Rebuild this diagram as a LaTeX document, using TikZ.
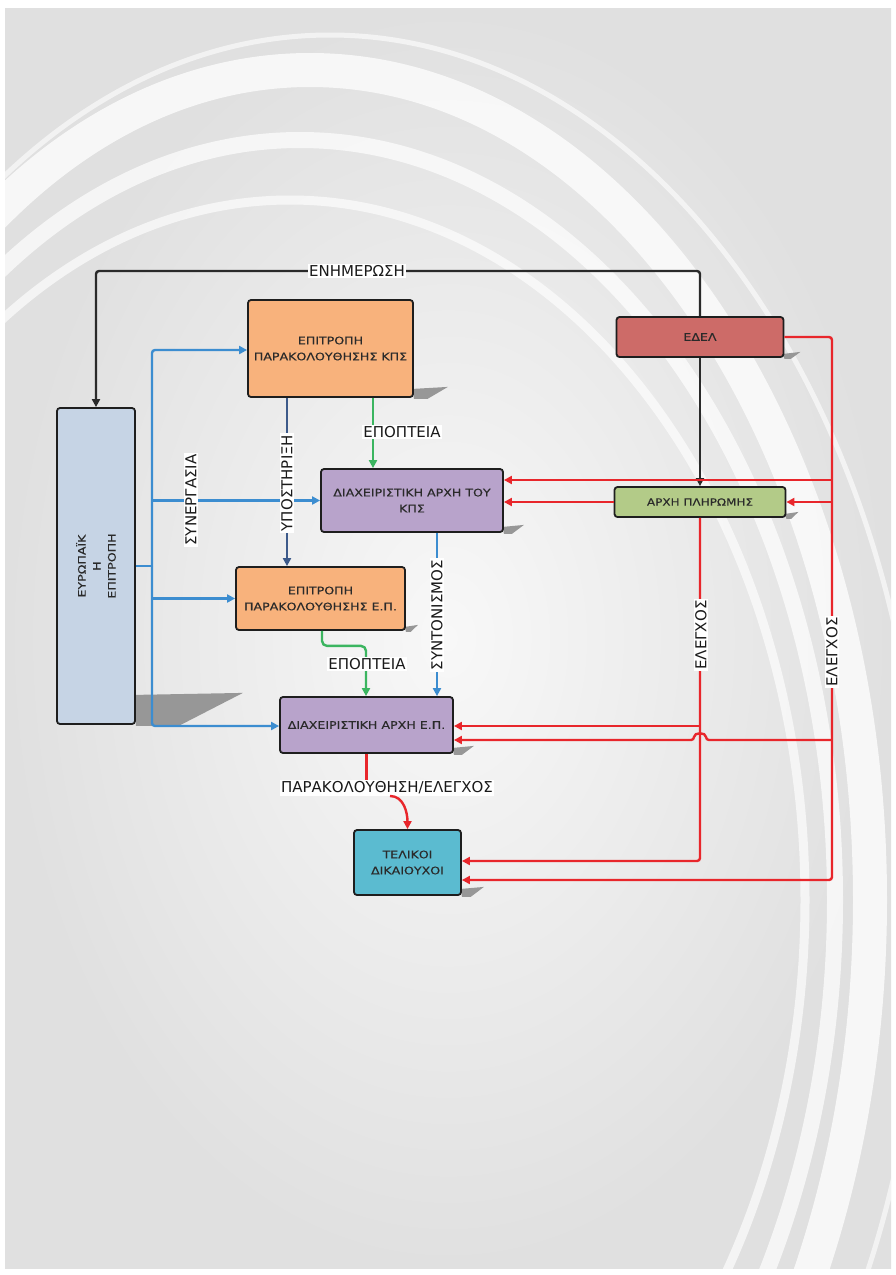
\documentclass[tikz,border=0pt]{standalone}
\usepackage{fontspec}
\setmainfont{DejaVu Sans}
\newfontfamily\boxfont[FakeStretch=1.2,FakeBold=0.3]{DejaVu Sans}
\usepackage{tikz}
\usetikzlibrary{positioning,arrows.meta,backgrounds}

\definecolor{pagegray}{HTML}{E0E0E0}
\definecolor{pagelight}{HTML}{F8F8F8}
\definecolor{shadegray}{HTML}{979797}
\definecolor{boxline}{HTML}{1E1E1E}
\definecolor{boxtext}{HTML}{2A2A2A}
\definecolor{lbltext}{HTML}{1A1A1A}
\definecolor{orangebox}{HTML}{F8B27C}
\definecolor{edelbox}{HTML}{CD6B68}
\definecolor{ecbox}{HTML}{C6D4E5}
\definecolor{purplebox}{HTML}{B8A3CB}
\definecolor{greenbox}{HTML}{B3CB88}
\definecolor{tealbox}{HTML}{5BBBD0}
\definecolor{lineblue}{HTML}{3C8DD0}
\definecolor{lineslate}{HTML}{3D5A8A}
\definecolor{linegreen}{HTML}{3BB560}
\definecolor{linered}{HTML}{E8262B}
\definecolor{lineblack}{HTML}{2A2A2A}

\pgfdeclarelayer{page}
\pgfsetlayers{page,background,main}

% wedge shadow at the lower right corner of a box
\newcommand{\boxshade}[3]{%
  \fill[shadegray] (#1.south east) ++(-1,-#3) -- ++(#2+1,-2)
    -- ++(-0.6*#2,#3+3) -- ++(-0.4*#2,0) -- cycle;}

\begin{document}
\begin{tikzpicture}[x=1pt,y=-1pt,
    >={Triangle[length=8pt,width=8pt]},
    box/.style={draw=boxline,line width=1.8pt,rounded corners=3pt,
      font=\boxfont\fontsize{10.5}{16}\selectfont,text=boxtext,align=center,inner sep=2pt},
    lbl/.style={fill=white,inner sep=1.5pt,font=\fontsize{15}{18}\selectfont,text=lbltext},
    conn/.style={line width=2.4pt,rounded corners=3pt},
    blueline/.style={conn,draw=lineblue},
    slateline/.style={conn,draw=lineslate},
    greenline/.style={conn,draw=linegreen,rounded corners=5pt},
    redline/.style={conn,draw=linered},
    blkline/.style={conn,draw=lineblack}]

  \useasboundingbox (0,0) rectangle (896,1275);

  % page
  \begin{pgfonlayer}{page}
    \fill[white] (0,0) rectangle (896,1275);
    \shade[inner color=pagelight,outer color=pagegray] (5,8) rectangle (891,1268);
    \begin{scope}
      \clip (5,8) rectangle (891,1268);
      \draw[white,line width=34pt,opacity=.75] (310,900) ellipse [x radius=560,y radius=830];
      \draw[white,line width=16pt,opacity=.7] (300,900) ellipse [x radius=535,y radius=760];
      \draw[white,line width=9pt,opacity=.65] (290,900) ellipse [x radius=515,y radius=700];
      \draw[white,line width=5pt,opacity=.6] (330,900) ellipse [x radius=595,y radius=865];
    \end{scope}
  \end{pgfonlayer}

  % boxes
  \node[box,fill=orangebox,minimum width=165pt,minimum height=97pt] (kpsmon) at (330.5,348.5)
    {ΕΠΙΤΡΟΠΗ\\ΠΑΡΑΚΟΛΟΥΘΗΣΗΣ ΚΠΣ};
  \node[box,fill=edelbox,minimum width=167pt,minimum height=40pt] (edel) at (700,337) {ΕΔΕΛ};
  \node[box,fill=ecbox,minimum width=78pt,minimum height=316pt] (ec) at (96,566) {};
  \node[rotate=90,align=center,text=boxtext,font=\boxfont\fontsize{10.5}{15}\selectfont]
    (ectext) at (ec.center) {ΕΥΡΩΠΑΪΚ\\Η\\ΕΠΙΤΡΟΠΗ};
  \node[box,fill=purplebox,minimum width=182pt,minimum height=63pt] (dakps) at (412,500.5)
    {ΔΙΑΧΕΙΡΙΣΤΙΚΗ ΑΡΧΗ ΤΟΥ\\ΚΠΣ};
  \node[box,fill=greenbox,minimum width=171pt,minimum height=30pt,
    font=\boxfont\fontsize{10}{12}\selectfont] (payauth) at (700,502) {ΑΡΧΗ ΠΛΗΡΩΜΗΣ};
  \node[box,fill=orangebox,minimum width=169pt,minimum height=63pt] (epmon) at (320.5,598.5)
    {ΕΠΙΤΡΟΠΗ\\ΠΑΡΑΚΟΛΟΥΘΗΣΗΣ Ε.Π.};
  \node[box,fill=purplebox,minimum width=173pt,minimum height=56pt] (daep) at (366.5,725)
    {ΔΙΑΧΕΙΡΙΣΤΙΚΗ ΑΡΧΗ Ε.Π.};
  \node[box,fill=tealbox,minimum width=107pt,minimum height=65pt] (benef) at (407.5,862.5)
    {ΤΕΛΙΚΟΙ\\ΔΙΚΑΙΟΥΧΟΙ};

  \begin{scope}[on background layer]
    \boxshade{kpsmon}{34}{9}
    \boxshade{edel}{16}{4}
    \boxshade{ec}{107}{30}
    \boxshade{dakps}{20}{6}
    \boxshade{payauth}{12}{4}
    \boxshade{epmon}{12}{4}
    \boxshade{daep}{20}{6}
    \boxshade{benef}{22}{7}
  \end{scope}

  % bus points
  \coordinate (inf) at (96,271);
  \coordinate (bustop) at (152,350);
  \coordinate (busbot) at (152,726);
  \coordinate (rtop) at (832,337);
  \coordinate (rbot) at (832,880);
  \coordinate (r1) at (832,480);
  \coordinate (r2) at (832,502);
  \coordinate (r3) at (832,740);
  \coordinate (m1) at (700,726);
  \coordinate (mbot) at (700,861);

  % black
  \draw[blkline,->] (edel.north) |- (inf) -- (ec.north);
  \draw[blkline,->] (edel.south) -- (payauth.north);

  % blue
  \draw[blueline] (ec.east) -- (ec.east -| bustop);
  \draw[blueline,->] (ec.east -| bustop) -- (bustop) -- (bustop -| kpsmon.west);
  \draw[blueline,->] (ec.east -| bustop) -- (busbot) -- (busbot -| daep.west);
  \draw[blueline,->] (bustop |- dakps.west) -- (dakps.west);
  \draw[blueline,->] (bustop |- epmon.west) -- (epmon.west);
  \draw[blueline,->] ([xshift=25pt]dakps.south) -- ([xshift=25pt]dakps.south |- daep.north);
  \draw[slateline,->] ([xshift=-43.5pt]kpsmon.south) -- ([xshift=-43.5pt]kpsmon.south |- epmon.north);

  % green
  \draw[greenline,->] ([xshift=42.5pt]kpsmon.south) -- ([xshift=42.5pt]kpsmon.south |- dakps.north);
  \draw[greenline,->] ([xshift=1.5pt]epmon.south) -- ++(0,15) -| ([xshift=-0.5pt]daep.north);

  % red
  \draw[redline,->] (edel.east) -- (rtop) -- (rbot) -- (rbot -| benef.east);
  \draw[redline,->] (r1) -- (r1 -| dakps.east);
  \draw[redline,->] (r2) -- (payauth.east);
  \draw[redline,->] (r3) -- (706,740) .. controls (706,732) and (694,732) .. (694,740)
    -- (r3 -| daep.east);
  \draw[redline,->] (payauth.west) -- (payauth.west -| dakps.east);
  \draw[redline,->] (payauth.south) -- (mbot) -- (mbot -| benef.east);
  \draw[redline,->] (m1) -- (m1 -| daep.east);

  % labels
  \node[lbl] (infolbl) at (357,271) {ΕΝΗΜΕΡΩΣΗ};
  \node[lbl,rotate=90] (cooplbl) at (191,500) {ΣΥΝΕΡΓΑΣΙΑ};
  \node[lbl,rotate=90] (supplbl) at (287,483) {ΥΠΟΣΤΗΡΙΞΗ};
  \node[lbl] (sup1lbl) at (402,432) {ΕΠΟΠΤΕΙΑ};
  \node[lbl] (sup2lbl) at (367,664) {ΕΠΟΠΤΕΙΑ};
  \node[lbl,rotate=90] (coordlbl) at (437,615) {ΣΥΝΤΟΝΙΣΜΟΣ};
  \node[lbl] (ctrllbl) at (387,788) {ΠΑΡΑΚΟΛΟΥΘΗΣΗ/ΕΛΕΓΧΟΣ};
  \node[lbl,rotate=90] (chk1lbl) at (701,635) {ΕΛΕΓΧΟΣ};
  \node[lbl,rotate=90] (chk2lbl) at (832,652) {ΕΛΕΓΧΟΣ};

  \draw[redline] (daep.south) -- (daep.south |- ctrllbl.north);
  \draw[redline,->] ([xshift=3pt]ctrllbl.south) .. controls +(14,0) and +(0,-16) .. (benef.north);
\end{tikzpicture}
\end{document}
